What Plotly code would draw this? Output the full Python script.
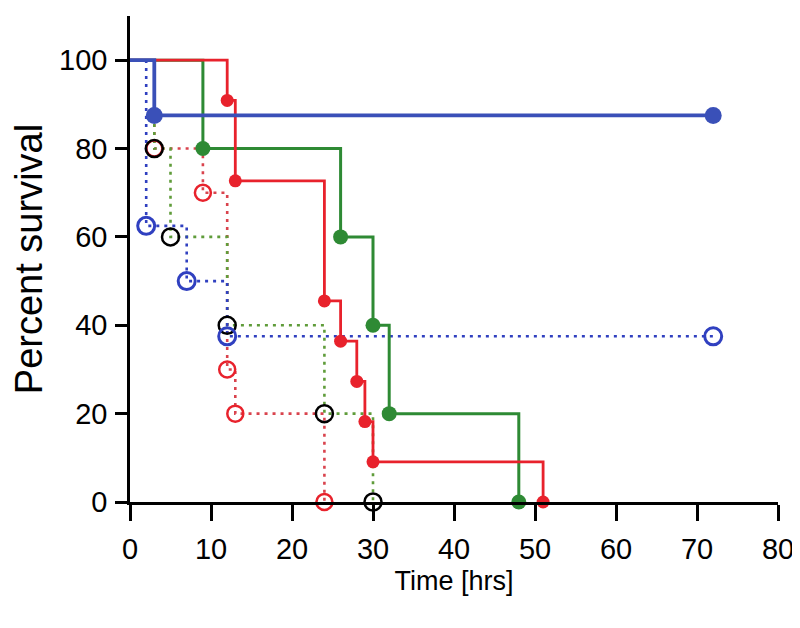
import plotly.graph_objects as go

# ---- data (time in hrs, percent survival) ----
blue_solid_t = [0, 3, 72]
blue_solid_s = [100, 87.5, 87.5]

green_solid_t = [0, 9, 26, 30, 32, 48]
green_solid_s = [100, 80, 60, 40, 20, 0]

red_solid_t = [0, 12, 13, 24, 26, 28, 29, 30, 51]
red_solid_s = [100, 90.9, 72.7, 45.5, 36.4, 27.3, 18.2, 9.1, 0]

blue_dot_t = [0, 2, 7, 12, 72]
blue_dot_s = [100, 62.5, 50, 37.5, 37.5]

green_dot_t = [0, 3, 5, 12, 24, 30]
green_dot_s = [100, 80, 60, 40, 20, 0]

red_dot_t = [0, 3, 9, 12, 13, 24]
red_dot_s = [100, 80, 70, 30, 20, 0]

x_ticks = [0, 10, 20, 30, 40, 50, 60, 70, 80]
y_ticks = [0, 20, 40, 60, 80, 100]

BLUE = "#3a50b8"
GREEN = "#2e8a34"
RED = "#e8222c"
BLUE_D = "#3040c0"
GREEN_D = "#5f9c3a"
RED_D = "#d9434d"

fig = go.Figure()

def step(t, s, color, width, dash):
    fig.add_trace(go.Scatter(x=t, y=s, mode="lines", line_shape="hv",
                             line=dict(color=color, width=width, dash=dash),
                             hoverinfo="skip", showlegend=False, cliponaxis=False))

def marks(t, s, symbol, size, fill, edge, lw):
    fig.add_trace(go.Scatter(x=t[1:], y=s[1:], mode="markers",
                             marker=dict(symbol=symbol, size=size, color=fill,
                                         line=dict(color=edge, width=lw)),
                             showlegend=False, cliponaxis=False))

DOT = "3px,5px"
# dotted groups
step(red_dot_t, red_dot_s, RED_D, 2.6, DOT)
step(green_dot_t, green_dot_s, GREEN_D, 2.6, DOT)
step(blue_dot_t, blue_dot_s, BLUE_D, 2.6, DOT)
# solid groups
step(green_solid_t, green_solid_s, GREEN, 3, "solid")
step(red_solid_t, red_solid_s, RED, 2.8, "solid")
step(blue_solid_t, blue_solid_s, BLUE, 3.8, "solid")

marks(red_dot_t, red_dot_s, "circle-open", 16, RED, RED, 2.5)
marks(green_dot_t, green_dot_s, "circle-open", 17, "black", "black", 2.5)
marks(blue_dot_t, blue_dot_s, "circle-open", 17, BLUE_D, BLUE_D, 3)
marks(green_solid_t, green_solid_s, "circle", 15, GREEN, GREEN, 0)
marks(red_solid_t, red_solid_s, "circle", 13, RED, RED, 0)
marks(blue_solid_t, blue_solid_s, "circle", 17, BLUE, BLUE, 0)

FONT = "Liberation Sans, Arial, sans-serif"

fig.update_layout(
    width=800, height=628,
    margin=dict(l=122, r=30, t=8, b=134),
    paper_bgcolor="white", plot_bgcolor="white",
    font=dict(family=FONT, color="black"),
    xaxis=dict(range=[0, 80], tickvals=x_ticks, ticktext=[str(v) for v in x_ticks],
               automargin=False,
               showgrid=False, zeroline=False, showline=True, linecolor="black",
               linewidth=2.5, ticks="outside", ticklen=16, tickwidth=2.5,
               tickcolor="black", tickfont=dict(size=29),
               ticklabelstandoff=3,
               title=dict(text="Time [hrs]", font=dict(size=27), standoff=8)),
    yaxis=dict(range=[0, 110], tickvals=y_ticks, ticktext=[str(v) for v in y_ticks],
               automargin=False,
               showgrid=False, zeroline=False, showline=True, linecolor="black",
               linewidth=2.5, ticks="outside", ticklen=12, tickwidth=2.5,
               tickcolor="black", tickfont=dict(size=29),
               ticklabelstandoff=2,
               title=dict(text="Percent survival", font=dict(size=38), standoff=20)),
)

fig.write_html("out.html")
